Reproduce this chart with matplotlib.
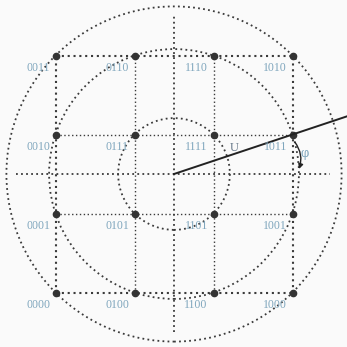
import numpy as np
import matplotlib.pyplot as plt
from matplotlib.patches import Circle

# 16-QAM constellation: levels and bit labels (rows top to bottom)
levels = [-1.5, -0.5, 0.5, 1.5]
row_y = [1.5, 0.5, -0.5, -1.5]
labels = [
	['0011', '0110', '1110', '1010'],
	['0010', '0111', '1111', '1011'],
	['0001', '0101', '1101', '1001'],
	['0000', '0100', '1100', '1000'],
]
radii = [np.sqrt(0.5), np.sqrt(2.5), np.sqrt(4.5)]
vec_end = (1.5, 0.5)   # point the vector U goes through

dot = (0, (1, 1.8))
gray = '#3a3a3a'
lblue = '#7fa6bd'

fig = plt.figure(figsize=(3.47, 3.47), dpi=100)
fig.patch.set_facecolor('#fafafa')
ax = fig.add_axes([0, 0, 1, 1])
ax.set_facecolor('#fafafa')
u = 79.0
ax.set_xlim(-174/u, 173/u)
ax.set_ylim(-173/u, 174/u)
ax.axis('off')

# circles
for r in radii:
	ax.add_patch(Circle((0, 0), r, fill=False, ec=gray, lw=1.3, ls=dot))

# axes
ax.plot([-2.0, 1.97], [0, 0], color=gray, lw=1.3, ls=dot)
ax.plot([0, 0], [-2.0, 2.0], color=gray, lw=1.3, ls=dot)

# grid
for v in levels:
	lw = 1.5 if abs(v) > 1 else 1.0
	ax.plot([-1.5, 1.5], [v, v], color=gray, lw=lw, ls=dot)
	ax.plot([v, v], [-1.5, 1.5], color=gray, lw=lw, ls=dot)

# points and labels
for i, y in enumerate(row_y):
	for j, x in enumerate(levels):
		ax.plot(x, y, 'o', color='#333333', ms=4.5)
		ax.text(x - 0.22, y - 0.16, labels[i][j], fontsize=8.5, family='Liberation Serif',
				color=lblue, ha='center', va='center')

# vector U
k = 2.25 / vec_end[0]
ax.plot([0, vec_end[0]*k], [0, vec_end[1]*k], color='#222222', lw=1.4)
ax.text(0.76, 0.33, 'U', fontsize=9, family='Liberation Serif', color='#667788',
		ha='center', va='center')

# phase arrow
ax.annotate('', xy=(1.57, 0.03), xytext=(1.51, 0.43),
			arrowprops=dict(arrowstyle='-|>', color='#222222', lw=1.0,
							connectionstyle='arc3,rad=-0.3', mutation_scale=7))
ax.text(1.65, 0.26, 'φ', fontsize=8.5, family='DejaVu Serif', color=lblue,
		ha='center', va='center')

fig.savefig('out.png', dpi=100, facecolor=fig.get_facecolor())
